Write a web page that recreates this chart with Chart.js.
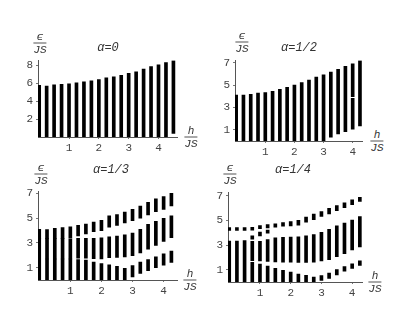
<!DOCTYPE html>
<html>
<head>
<meta charset="utf-8">
<script src="https://cdn.jsdelivr.net/npm/chart.js@4"></script>
<style>
  body { margin: 0; background: #fff; }
  #wrap { position: relative; width: 415px; height: 321px; overflow: hidden; background: #fff; }
  canvas { position: absolute; }
  .frac, .ttl { position: absolute; transform: translate(-50%, -50%); color: #333;
    font: italic 11px 'Liberation Mono', 'DejaVu Sans Mono', monospace; text-align: center; white-space: nowrap; }
  .frac .num { border-bottom: 1px solid #555; line-height: 10px; padding: 0 2px 1px; }
  .frac .den { line-height: 10px; padding-top: 1px; }
  .ttl { font-size: 12px; }
</style>
</head>
<body>
<div id="wrap">
  <canvas id="c1" width="169" height="104" style="left:16px;top:51px"></canvas>
  <canvas id="c2" width="157" height="108" style="left:213px;top:51px"></canvas>
  <canvas id="c3" width="169" height="116" style="left:16px;top:182px"></canvas>
  <canvas id="c4" width="164" height="117" style="left:206px;top:183px"></canvas>

  <div class="frac" style="left:40px;top:43px"><div class="num">ϵ</div><div class="den">JS</div></div>
  <div class="frac" style="left:191px;top:137px"><div class="num">h</div><div class="den">JS</div></div>
  <div class="ttl" style="left:108px;top:48px">α=0</div>

  <div class="frac" style="left:242px;top:42px"><div class="num">ϵ</div><div class="den">JS</div></div>
  <div class="frac" style="left:377px;top:141px"><div class="num">h</div><div class="den">JS</div></div>
  <div class="ttl" style="left:299px;top:48px">α=1/2</div>

  <div class="frac" style="left:41px;top:174px"><div class="num">ϵ</div><div class="den">JS</div></div>
  <div class="frac" style="left:190px;top:280px"><div class="num">h</div><div class="den">JS</div></div>
  <div class="ttl" style="left:111px;top:170px">α=1/3</div>

  <div class="frac" style="left:230px;top:174px"><div class="num">ϵ</div><div class="den">JS</div></div>
  <div class="frac" style="left:375px;top:282px"><div class="num">h</div><div class="den">JS</div></div>
  <div class="ttl" style="left:293px;top:170px">α=1/4</div>
</div>
<script>
// field values h/JS
const hLong = [0, 0.25, 0.5, 0.75, 1, 1.25, 1.5, 1.75, 2, 2.25, 2.5, 2.75, 3, 3.25, 3.5, 3.75, 4, 4.25, 4.5];
const hShort = [0, 0.25, 0.5, 0.75, 1, 1.25, 1.5, 1.75, 2, 2.25, 2.5, 2.75, 3, 3.25, 3.5, 3.75, 4, 4.25];

const xTicks = [1, 2, 3, 4];
const yTicksEven = [2, 4, 6, 8];
const yTicksOdd = [1, 3, 5, 7];

// alpha = 0 : one band [low, high]
const a0Band = [[0,5.78],[0,5.71],[0,5.85],[0,5.89],[0,5.96],[0,6.06],[0,6.17],[0,6.28],[0,6.42],[0,6.63],
  [0,6.74],[0,6.91],[0,7.13],[0,7.30],[0,7.59],[0,7.87],[0,8.09],[0,8.33],[0.4,8.55]];

// alpha = 1/2
const a2Band1 = [[0,4.10],[0,4.10],[0,4.16],[0,4.27],[0,4.33],[0,4.44],[0,4.62],[0,4.79],[0,4.99],[0,5.21],
  [0,5.44],[0,5.70],[0,5.90],[0.34,6.15],[0.63,6.41],[0.83,6.67],[1.05,3.8],[1.34,7.18]];
const a2Band2 = [null,null,null,null,null,null,null,null,null,null,null,null,null,null,null,null,[3.95,6.89],null];

// alpha = 1/3
const a3Band1 = [[0,1.7],[0,1.7],[0,1.7],[0,1.7],[0,1.7],[0,1.65],[0,1.62],[0,1.45],[0,1.32],[0,1.22],
  [0,1.1],[0,0.95],[0.25,1.17],[0.53,1.45],[0.75,1.66],[0.99,1.88],[1.2,2.12],[1.43,2.34]];
const a3Band2 = [[1.7,3.37],[1.7,3.37],[1.7,3.37],[1.7,3.37],[1.7,3.33],[1.77,3.38],[1.77,3.38],[1.72,3.38],[1.7,3.42],[1.8,3.5],
  [1.82,3.56],[1.87,3.66],[1.97,3.8],[2.2,4.1],[2.5,4.5],[2.8,4.75],[3.12,4.98],[3.43,5.2]];
const a3Band3 = [[3.37,4.10],[3.37,4.08],[3.37,4.18],[3.37,4.23],[3.4,4.31],[3.56,4.42],[3.72,4.52],[3.9,4.68],[4.0,4.83],[4.28,5.19],
  [4.41,5.3],[4.62,5.5],[4.8,5.71],[5.01,5.97],[5.27,6.28],[5.53,6.57],[5.71,6.75],[6.0,7.01]];

// alpha = 1/4
const a4Band1 = [[0,1.68],[0,1.68],[0,1.68],[0,1.6],[0,1.45],[0,1.3],[0,1.1],[0,0.95],[0,0.8],[0,0.65],
  [0,0.55],[0,0.4],[0.12,0.52],[0.3,0.72],[0.58,1.0],[0.88,1.26],[1.1,1.48],[1.35,1.72]];
const a4Band2 = [[1.72,3.32],[1.72,3.32],[1.72,3.35],[1.72,3.3],[1.7,3.3],[1.66,3.45],[1.62,3.58],[1.6,3.62],[1.6,3.64],[1.58,3.66],
  [1.58,3.74],[1.6,3.84],[1.7,4.02],[1.82,4.28],[2.05,4.55],[2.3,4.78],[2.6,5.02],[2.85,5.3]];
const a4Band3 = [null,null,null,[3.48,3.74],[3.74,4.04],[3.96,4.22],null,null,null,null,
  null,null,null,null,null,null,null,null];
const a4Band4 = [[4.18,4.42],[4.18,4.42],[4.18,4.42],[4.2,4.44],[4.32,4.58],[4.38,4.66],[4.44,4.72],[4.52,4.82],[4.55,4.9],[4.6,5.01],
  [4.86,5.27],[5.06,5.5],[5.32,5.71],[5.53,5.97],[5.79,6.2],[6.02,6.43],[6.28,6.67],[6.54,6.87]];

const tickFont = { family: "'Liberation Mono', monospace", size: 11 };

function panel(id, h, bands, yMax, xMax, yTicks) {
  const datasets = bands.map(band => ({
    data: h.map((x, i) => band[i] ? { x: x, y: band[i] } : null).filter(d => d),
    backgroundColor: '#000',
    borderWidth: 0,
    barThickness: 3,
    grouped: false
  }));
  new Chart(document.getElementById(id), {
    type: 'bar',
    data: { datasets: datasets },
    options: {
      responsive: false,
      animation: false,
      layout: { padding: { top: 6, right: 8, left: 0, bottom: 0 } },
      plugins: { legend: { display: false }, tooltip: { enabled: false } },
      scales: {
        x: {
          type: 'linear', min: -0.04, max: xMax, offset: false,
          afterBuildTicks: s => { s.ticks = xTicks.map(v => ({ value: v })); },
          afterFit: s => { s.height = 18; },
          grid: { display: true, drawOnChartArea: false, tickLength: 2, color: '#777', offset: false },
          border: { display: true, color: '#555', width: 1 },
          ticks: { font: tickFont, color: '#444', padding: 2, maxRotation: 0 }
        },
        y: {
          min: 0, max: yMax,
          afterBuildTicks: s => { s.ticks = yTicks.map(v => ({ value: v })); },
          afterFit: s => { s.width = 22; },
          grid: { display: true, drawOnChartArea: false, tickLength: 2, color: '#777' },
          border: { display: true, color: '#555', width: 1 },
          ticks: { font: tickFont, color: '#444', padding: 3 }
        }
      }
    }
  });
}

panel('c1', hLong, [a0Band], 8.55, 4.62, yTicksEven);
panel('c2', hShort, [a2Band1, a2Band2], 7.18, 4.32, yTicksOdd);
panel('c3', hShort, [a3Band1, a3Band2, a3Band3], 7.15, 4.43, yTicksOdd);
panel('c4', hShort, [a4Band1, a4Band2, a4Band3, a4Band4], 7.25, 4.32, yTicksOdd);
</script>
</body>
</html>
